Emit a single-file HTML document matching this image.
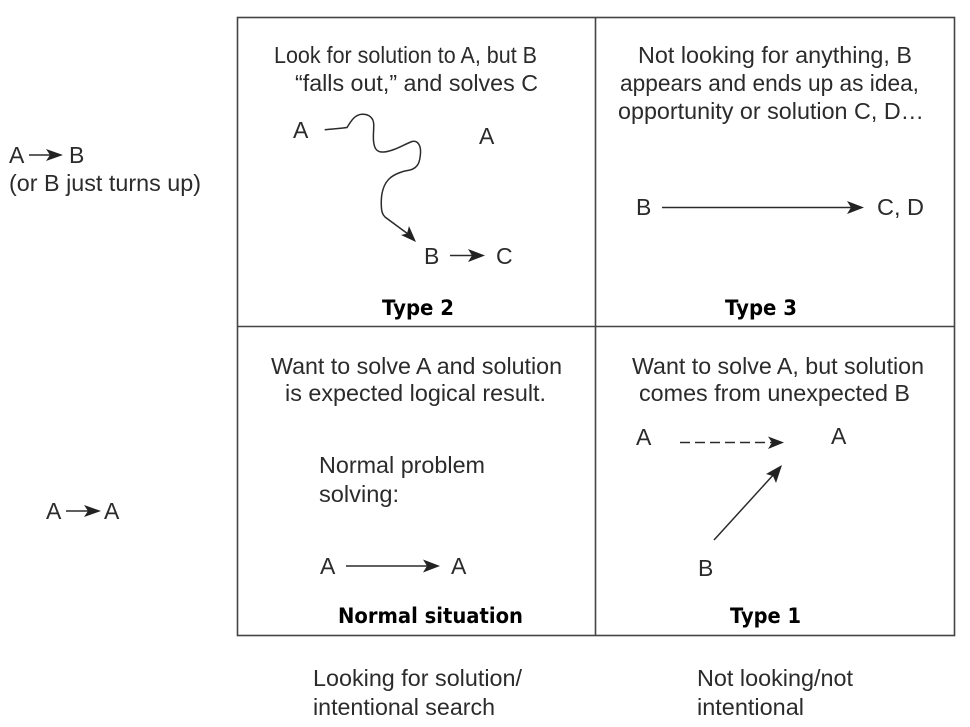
<!DOCTYPE html>
<html>
<head>
<meta charset="utf-8">
<style>
html,body{margin:0;padding:0;background:#fff;width:970px;height:727px;overflow:hidden}
svg{display:block}
text{font-family:"Liberation Sans",sans-serif;font-size:23px;fill:#2b2b2b}
text.b{font-family:"DejaVu Sans",sans-serif;font-weight:bold;font-size:21px;fill:#000}
</style>
</head>
<body>
<svg width="970" height="727" viewBox="0 0 970 727" xmlns="http://www.w3.org/2000/svg">
<rect x="237.5" y="17.5" width="717" height="618" fill="none" stroke="#444" stroke-width="1.6"/>
<line x1="595.5" y1="17" x2="595.5" y2="636" stroke="#444" stroke-width="1.6"/>
<line x1="237" y1="326.5" x2="955" y2="326.5" stroke="#444" stroke-width="1.6"/>

<text x="274" y="63" textLength="263" lengthAdjust="spacingAndGlyphs">Look for solution to A, but B</text>
<text x="295" y="91" textLength="243" lengthAdjust="spacingAndGlyphs">“falls out,” and solves C</text>
<text x="293" y="138">A</text>
<text x="479" y="144">A</text>
<text x="424" y="264">B</text>
<text x="496" y="264">C</text>
<path d="M324.7 129.7C332 129 340 128.5 347 127.5C351 121 355 114.5 362 114.3C369 114 373.5 118 373.7 124C374 131 372.5 138 374 144C375 150 378 152.5 384 152C394 151 403 145 412 141.5C418 140 421 146 420.5 153C420 162 418 168 410 170C403 171 394 174 389 179C382 186 381 196 381.3 205C381.5 211 382 214 385 217L408 234" fill="none" stroke="#2b2b2b" stroke-width="1.5"/>
<polygon points="416,242 401,235 407,233.5 409,226" fill="#222"/>
<line x1="450" y1="255.5" x2="476" y2="255.5" stroke="#2b2b2b" stroke-width="1.5"/>
<polygon points="485,255.5 468,249 472,255.5 468,262" fill="#222"/>
<text class="b" x="382" y="315" textLength="72" lengthAdjust="spacingAndGlyphs">Type 2</text>

<text x="638" y="63" textLength="274" lengthAdjust="spacingAndGlyphs">Not looking for anything, B</text>
<text x="620" y="91" textLength="299" lengthAdjust="spacingAndGlyphs">appears and ends up as idea,</text>
<text x="618" y="119" textLength="306" lengthAdjust="spacingAndGlyphs">opportunity or solution C, D…</text>
<text x="636" y="215">B</text>
<text x="877" y="215" textLength="47" lengthAdjust="spacingAndGlyphs">C, D</text>
<line x1="662" y1="207.5" x2="855" y2="207.5" stroke="#2b2b2b" stroke-width="1.5"/>
<polygon points="864,207.5 847,201 851,207.5 847,214" fill="#222"/>
<text class="b" x="725" y="315" textLength="72" lengthAdjust="spacingAndGlyphs">Type 3</text>

<text x="271" y="374" textLength="291" lengthAdjust="spacingAndGlyphs">Want to solve A and solution</text>
<text x="285" y="401" textLength="261" lengthAdjust="spacingAndGlyphs">is expected logical result.</text>
<text x="319" y="473" textLength="166" lengthAdjust="spacingAndGlyphs">Normal problem</text>
<text x="319" y="502" textLength="80" lengthAdjust="spacingAndGlyphs">solving:</text>
<text x="320" y="574">A</text>
<text x="451" y="574">A</text>
<line x1="346" y1="566" x2="431" y2="566" stroke="#2b2b2b" stroke-width="1.5"/>
<polygon points="440,566 423,559.5 427,566 423,572.5" fill="#222"/>
<text class="b" x="338" y="623" textLength="185" lengthAdjust="spacingAndGlyphs">Normal situation</text>

<text x="632" y="374" textLength="292" lengthAdjust="spacingAndGlyphs">Want to solve A, but solution</text>
<text x="639" y="401" textLength="271" lengthAdjust="spacingAndGlyphs">comes from unexpected B</text>
<text x="636" y="445">A</text>
<text x="831" y="444">A</text>
<text x="698" y="576">B</text>
<line x1="680" y1="442.5" x2="776" y2="442.5" stroke="#2b2b2b" stroke-width="1.5" stroke-dasharray="10 5"/>
<polygon points="784,442.5 768,436.5 772,442.5 768,449" fill="#222"/>
<line x1="714" y1="540" x2="775" y2="473" stroke="#2b2b2b" stroke-width="1.5"/>
<polygon points="782,465 766,474 773,476 776,483" fill="#222"/>
<text class="b" x="730" y="623" textLength="71" lengthAdjust="spacingAndGlyphs">Type 1</text>

<text x="9" y="163">A</text>
<line x1="29" y1="155" x2="53" y2="155" stroke="#2b2b2b" stroke-width="1.5"/>
<polygon points="63,155 46,149 50,155 46,161" fill="#222"/>
<text x="69" y="163">B</text>
<text x="9" y="191" textLength="192" lengthAdjust="spacingAndGlyphs">(or B just turns up)</text>

<text x="46" y="519">A</text>
<line x1="66" y1="511" x2="92" y2="511" stroke="#2b2b2b" stroke-width="1.5"/>
<polygon points="101,511 84,505 88,511 84,517" fill="#222"/>
<text x="104" y="519">A</text>

<text x="313" y="686" textLength="209" lengthAdjust="spacingAndGlyphs">Looking for solution/</text>
<text x="313" y="715" textLength="182" lengthAdjust="spacingAndGlyphs">intentional search</text>
<text x="697" y="686" textLength="156" lengthAdjust="spacingAndGlyphs">Not looking/not</text>
<text x="697" y="715" textLength="107" lengthAdjust="spacingAndGlyphs">intentional</text>
</svg>
</body>
</html>
